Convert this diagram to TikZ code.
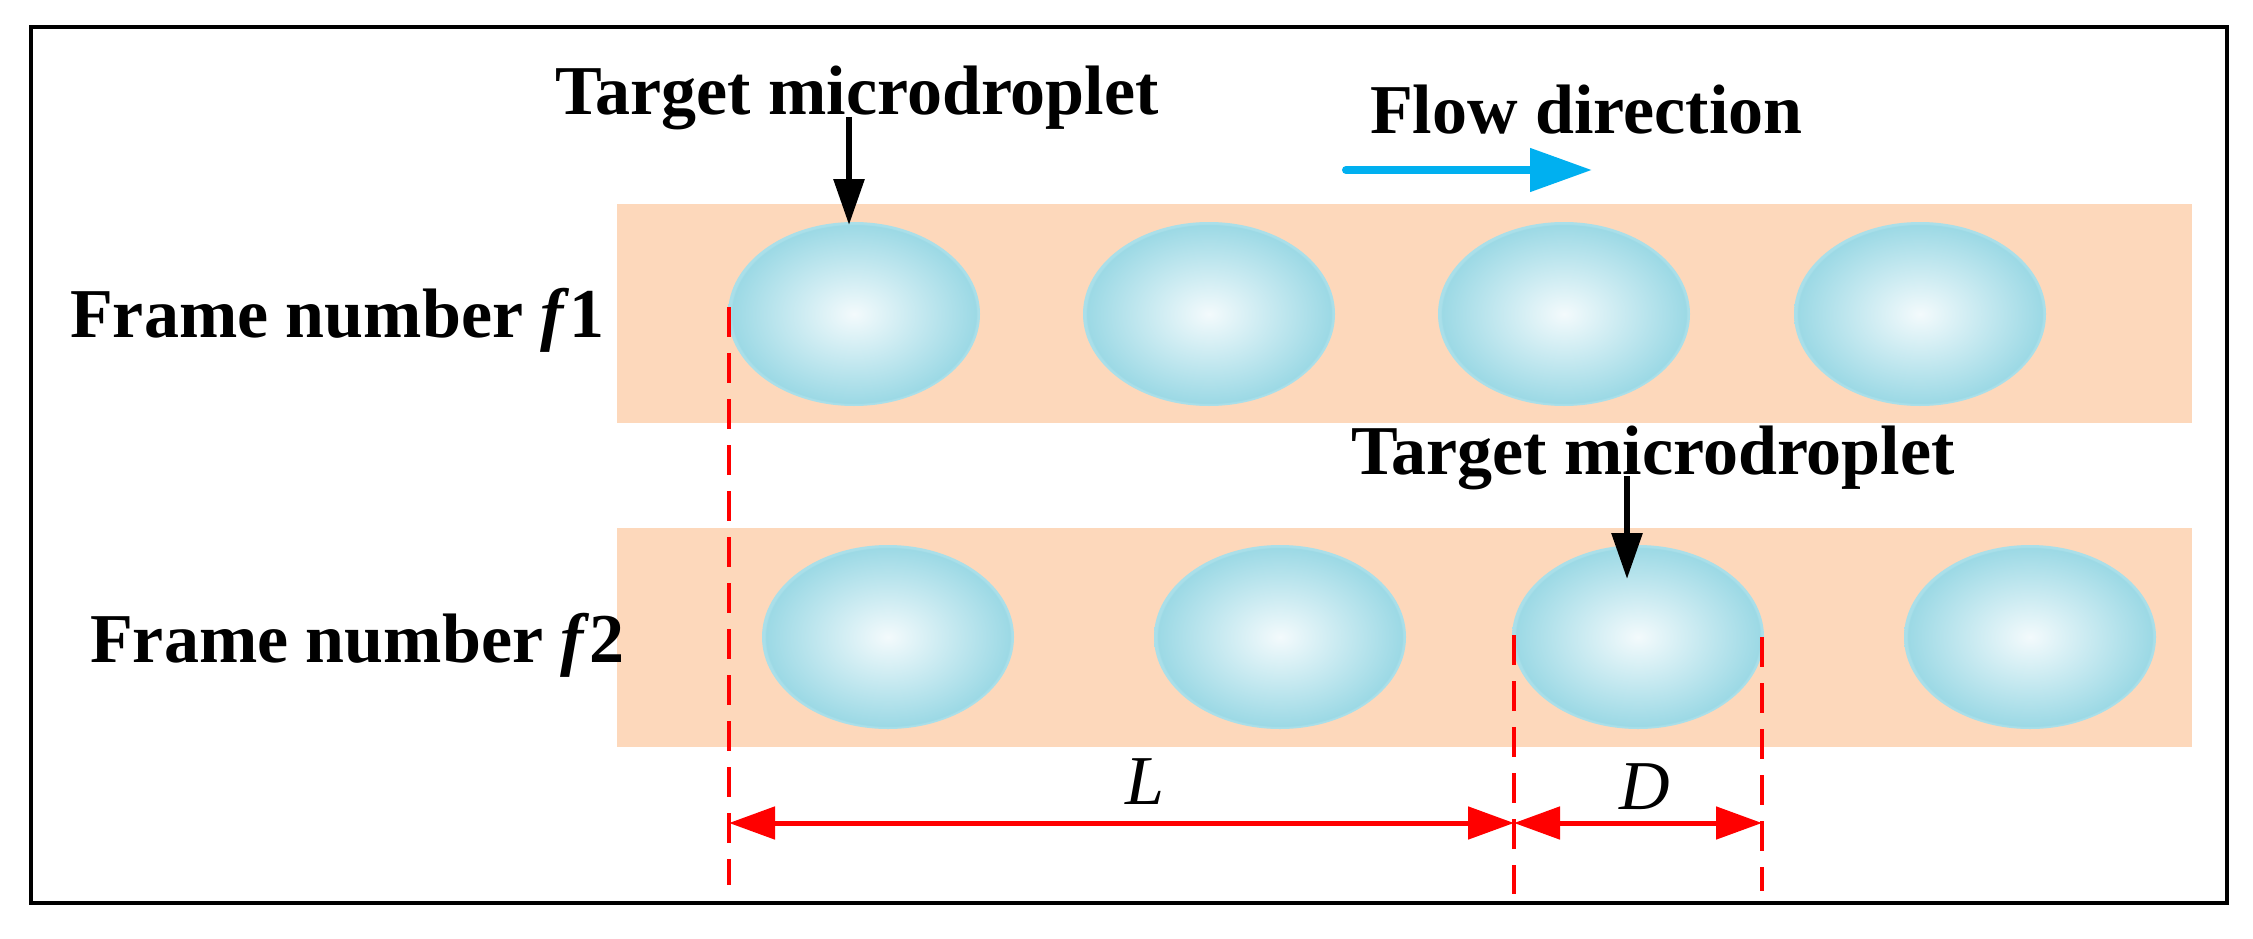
\documentclass[tikz,border=0pt]{standalone}
\usepackage{fontspec}
\setmainfont{Liberation Serif}
\usetikzlibrary{arrows.meta,shapes.geometric}
\definecolor{chan}{RGB}{253,216,187}
\definecolor{dropc}{RGB}{243,250,252}
\definecolor{dropd}{RGB}{156,217,229}
\definecolor{dropr}{RGB}{170,223,233}
\definecolor{flowblue}{RGB}{0,176,240}
\definecolor{dimred}{RGB}{255,0,0}
\pgfdeclareradialshading{dropshade}{\pgfpoint{0bp}{0bp}}{color(0bp)=(dropc); color(24.2bp)=(dropd); color(24.5bp)=(dropr); color(50bp)=(dropr)}
\begin{document}
\begin{tikzpicture}[x=1pt,y=-1pt,
  droplet/.style={ellipse, minimum width=252pt, minimum height=184pt, inner sep=0pt, shading=dropshade},
  lbl/.style={anchor=base west, inner sep=0pt, font=\fontsize{70}{84}\selectfont\bfseries},
  dimlbl/.style={anchor=base, inner sep=0pt, font=\fontsize{70}{84}\selectfont\itshape},
  pointer/.style={line width=6pt, -{Triangle[length=46pt,width=30pt]}},
  flowarrow/.style={flowblue, line width=8pt, line cap=round, -{Triangle[length=62pt,width=42pt]}},
  dimline/.style={dimred, line width=5pt, {Triangle[length=46pt,width=32pt]}-{Triangle[length=46pt,width=32pt]}},
  extline/.style={dimred, line width=4.5pt, dash pattern=on 30pt off 16pt},
  channel/.style={fill=chan}
]
\useasboundingbox (0,0) rectangle (2253,939);
\fill[white] (0,0) rectangle (2253,939);
\draw[line width=3.5pt] (31,27) rectangle (2227,903);

% channels
\fill[channel] (617,204) rectangle (2192,423);
\fill[channel] (617,528) rectangle (2192,747);

% droplets frame f1
\node[droplet] (a1) at (854,314) {};
\node[droplet] (a2) at (1209,314) {};
\node[droplet] (a3) at (1564,314) {};
\node[droplet] (a4) at (1920,314) {};
% droplets frame f2
\node[droplet] (b1) at (888,637) {};
\node[droplet] (b2) at (1280,637) {};
\node[droplet] (b3) at (1638,637) {};
\node[droplet] (b4) at (2030,637) {};

% labels
\node[lbl] (t1) at (555,115) {Target microdroplet};
\node[lbl] (t2) at (1351,474) {Target microdroplet};
\node[lbl] (fl) at (1370,133) {Flow direction};
\node[lbl] (f1) at (70,337) {Frame number \textit{f}1};
\node[lbl] (f2) at (90,662) {Frame number \textit{f}2};

% pointer arrows
\coordinate (p1) at (849,117);
\coordinate (p1e) at (849,225);
\coordinate (p2) at (1627,476);
\coordinate (p2e) at (1627,579);
\draw[pointer] (p1) -- (p1e);
\draw[pointer] (p2) -- (p2e);

% flow arrow
\coordinate (fa) at (1346,170);
\coordinate (fb) at (1592,170);
\draw[flowarrow] (fa) -- (fb);

% extension lines
\coordinate (e1s) at (729,307);
\coordinate (e1e) at (729,885);
\coordinate (e2s) at (1514,635);
\coordinate (e2e) at (1514,894);
\coordinate (e3s) at (1762,637);
\coordinate (e3e) at (1762,891);
\draw[extline] (e1s) -- (e1e);
\draw[extline] (e2s) -- (e2e);
\draw[extline] (e3s) -- (e3e);

% dimension lines
\coordinate (m1) at (729,823);
\coordinate (m2) at (1514,823);
\coordinate (m3) at (1762,823);
\draw[dimline] (m1) -- (m2);
\draw[dimline] (m2) -- (m3);
\node[dimlbl] (lL) at (1145,804) {L};
\node[dimlbl] (lD) at (1645,809) {D};
\end{tikzpicture}
\end{document}
